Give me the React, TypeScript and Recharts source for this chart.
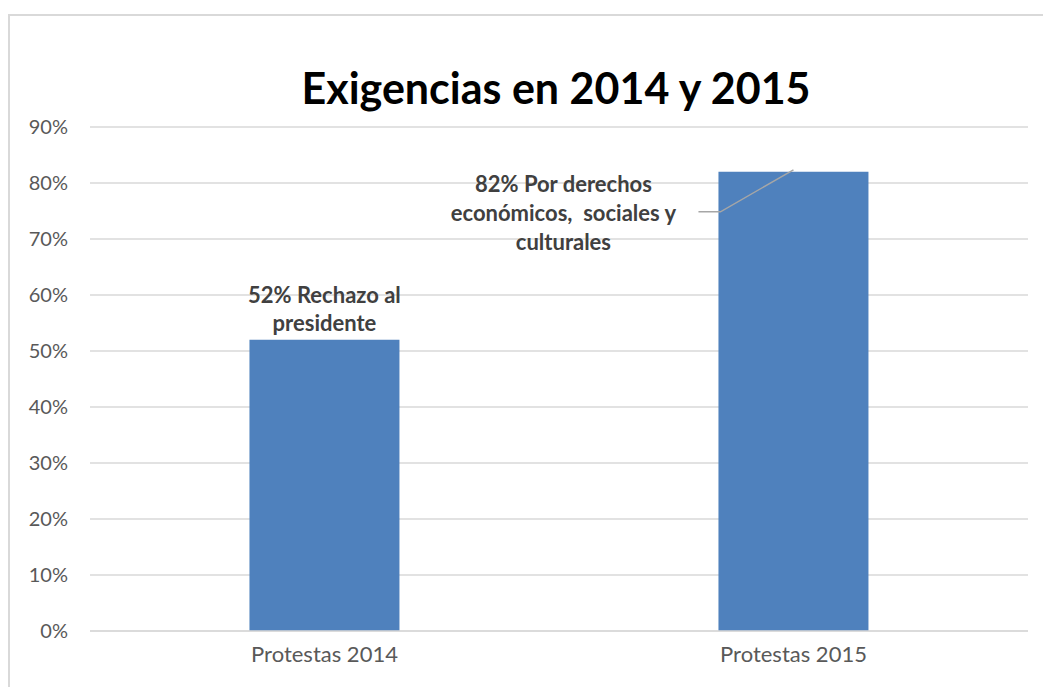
import { Bar, BarChart, CartesianGrid, LabelList, XAxis, YAxis } from "recharts";

const CATEGORIES = ["Protestas 2014", "Protestas 2015"];
const VALUES = [0.52, 0.82];
const BAR_LABELS = [
  ["52% Rechazo al", "presidente"],
  ["82% Por derechos", "económicos,  sociales y", "culturales"],
];
const Y_TICKS = [0, 0.1, 0.2, 0.3, 0.4, 0.5, 0.6, 0.7, 0.8, 0.9];

const FONT = "Lato, 'Open Sans', sans-serif";
const data = CATEGORIES.map((name, i) => ({ name, value: VALUES[i] }));

function BarLabel(props: any) {
  const { x, y, width, index } = props;
  const lines = BAR_LABELS[index] ?? [];
  const cx = x + width / 2;
  if (index === 0) {
    return (
      <text textAnchor="middle" fill="#404040" fontSize={22} fontWeight={700} fontFamily={FONT} style={{ whiteSpace: "pre" }}>
        {lines.map((l, i) => (
          <tspan key={i} x={cx} y={y - 37 + i * 28}>
            {l}
          </tspan>
        ))}
      </text>
    );
  }
  // callout label placed to the left of the bar with a leader line
  const lx = x - 155;
  return (
    <g>
      <polyline
        points={`${x - 20},${y + 40} ${x + 2},${y + 40} ${x + 75},${y - 2}`}
        fill="none"
        stroke="#a6a6a6"
        strokeWidth={1.5}
      />
      <text textAnchor="middle" fill="#404040" fontSize={22} fontWeight={700} fontFamily={FONT} style={{ whiteSpace: "pre" }}>
        {lines.map((l, i) => (
          <tspan key={i} x={lx} y={y + 20 + i * 29}>
            {l}
          </tspan>
        ))}
      </text>
    </g>
  );
}

export default function App() {
  return (
    <div
      style={{
        position: "fixed",
        left: 0,
        top: 0,
        width: 1043,
        height: 687,
        background: "#fff",
        overflow: "hidden",
        fontFamily: FONT,
      }}
    >
      <div
        style={{
          position: "absolute",
          left: 8,
          top: 14,
          width: 1100,
          height: 800,
          border: "2px solid #d9d9d9",
        }}
      />
      <div
        style={{
          position: "absolute",
          left: 0,
          width: 1112,
          top: 62,
          textAlign: "center",
          fontSize: 43,
          fontWeight: 700,
          color: "#000",
        }}
      >
        Exigencias en 2014 y 2015
      </div>
      <BarChart
        width={1043}
        height={687}
        data={data}
        margin={{ top: 127, right: 15, bottom: 0, left: 30 }}
        barCategoryGap="34%"
        style={{ position: "absolute", left: 0, top: 0 }}
      >
        <CartesianGrid stroke="#d9d9d9" strokeWidth={1.5} vertical={false} />
        <XAxis
          dataKey="name"
          height={56}
          tickLine={false}
          axisLine={{ stroke: "#d9d9d9", strokeWidth: 1.5 }}
          tickMargin={9}
          tick={{ fill: "#595959", fontSize: 22, fontFamily: FONT }}
        />
        <YAxis
          width={60}
          domain={[0, 0.9]}
          ticks={Y_TICKS}
          tickFormatter={(v: number) => `${Math.round(v * 100)}%`}
          tickLine={false}
          axisLine={false}
          tickMargin={16}
          tick={{ fill: "#595959", fontSize: 20, fontFamily: FONT }}
        />
        <Bar dataKey="value" fill="#4f81bd" isAnimationActive={false}>
          <LabelList dataKey="value" content={BarLabel} />
        </Bar>
      </BarChart>
    </div>
  );
}
